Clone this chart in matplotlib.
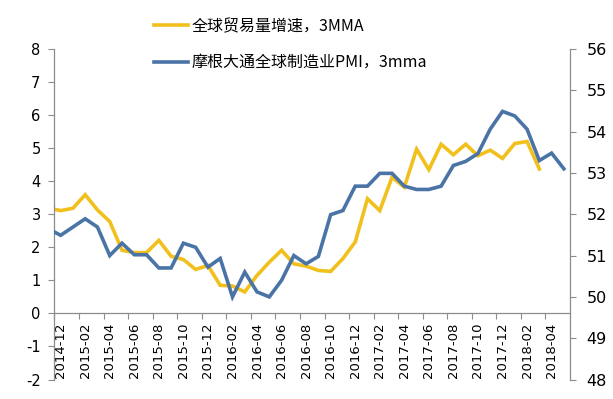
import matplotlib
matplotlib.use("Agg")
import matplotlib.pyplot as plt
import numpy as np

plt.rcParams["axes.unicode_minus"] = False

# monthly points, 2014-11 .. 2018-05 (the first one is clipped by the axis)
trade = [3.19, 3.11, 3.18, 3.59, 3.13, 2.78, 1.91, 1.84, 1.84, 2.21, 1.73,
         1.63, 1.33, 1.45, 0.85, 0.83, 0.65, 1.15, 1.55, 1.91, 1.50, 1.43,
         1.30, 1.27, 1.66, 2.16, 3.47, 3.11, 4.12, 3.82, 4.97, 4.35, 5.12,
         4.80, 5.12, 4.77, 4.94, 4.69, 5.14, 5.20, 4.37, np.nan, np.nan]
pmi = [51.65, 51.49, 51.69, 51.89, 51.69, 51.00, 51.30, 51.02, 51.02, 50.70,
       50.70, 51.30, 51.20, 50.72, 50.93, 50.00, 50.60, 50.12, 50.00, 50.40,
       51.00, 50.80, 50.98, 51.99, 52.09, 52.68, 52.68, 52.99, 52.99, 52.68,
       52.60, 52.60, 52.68, 53.18, 53.28, 53.47, 54.06, 54.49, 54.38, 54.06,
       53.30, 53.48, 53.10]
tick_labels = ["2014-12", "2015-02", "2015-04", "2015-06", "2015-08",
               "2015-10", "2015-12", "2016-02", "2016-04", "2016-06",
               "2016-08", "2016-10", "2016-12", "2017-02", "2017-04",
               "2017-06", "2017-08", "2017-10", "2017-12", "2018-02",
               "2018-04"]
label_trade = "全球贸易量增速，3MMA"
label_pmi = "摩根大通全球制造业PMI，3mma"

yellow = "#F2C01C"
blue = "#4A74A6"
grey = "#8C8C8C"

x = np.arange(len(pmi))

fig = plt.figure(figsize=(6.13, 3.99), dpi=100)
ax = fig.add_axes([54.5 / 613, 1 - 379.5 / 399, (570 - 54.5) / 613, (379.5 - 49) / 399])
ax2 = ax.twinx()

l1, = ax.plot(x, trade, color=yellow, lw=2.6, solid_joinstyle="miter")
l2, = ax2.plot(x, pmi, color=blue, lw=2.6, solid_joinstyle="miter")

ax.set_xlim(0.5, len(pmi) - 0.5)
ax.set_ylim(-2, 8)
ax2.set_ylim(48, 56)
ax.set_yticks(range(-2, 9))
ax2.set_yticks(range(48, 57))

# category axis: ticks between months, labels on the months
ax.set_xticks(np.arange(0.5, 41, 2))
ax.set_xticklabels([])
ax.set_xticks(np.arange(1, 42, 2), minor=True)
ax.set_xticklabels(tick_labels, minor=True)
ax.tick_params(axis="x", which="major", length=4, color=grey, direction="out",
               labelbottom=False)
ax.tick_params(axis="x", which="minor", length=0, pad=6.5, labelsize=9.5,
               labelrotation=90)

ax.spines["bottom"].set_position(("data", 0))
for a in (ax, ax2):
    a.spines["top"].set_visible(False)
    for s in a.spines.values():
        s.set_color(grey)
        s.set_linewidth(0.9)
ax.spines["right"].set_visible(False)
ax2.spines["left"].set_visible(False)
ax2.spines["bottom"].set_visible(False)

ax.tick_params(axis="y", length=4, color=grey, labelsize=10.5, pad=6)
ax2.tick_params(axis="y", length=4, color=grey, labelsize=11.5, pad=8)

fig.legend([l1, l2], [label_trade, label_pmi], loc="upper left",
           bbox_to_anchor=(154 / 613, 1 - 18 / 399), frameon=False,
           prop={"family": ["Noto Sans CJK SC", "DejaVu Sans"], "size": 11.5},
           handlelength=2.1, handletextpad=0.25, labelspacing=1.2,
           borderaxespad=0, borderpad=0)

fig.savefig("out.png", dpi=100, facecolor="white")
